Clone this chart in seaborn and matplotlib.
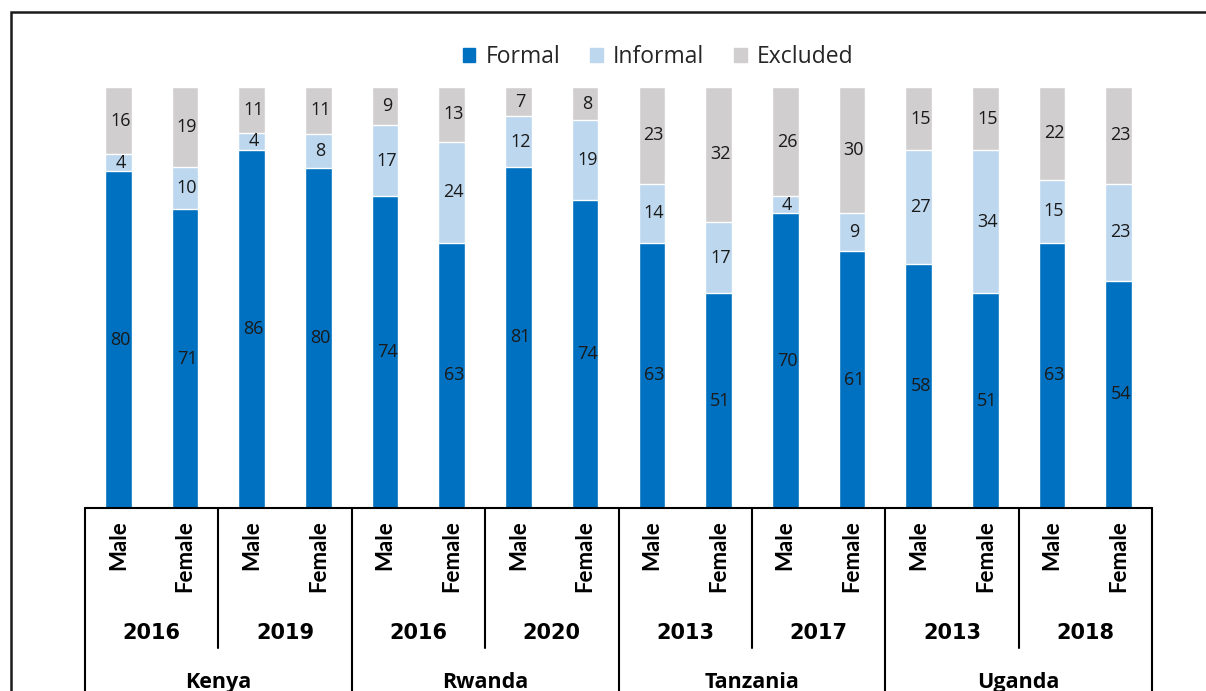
import pandas as pd
import matplotlib.pyplot as plt
import matplotlib.patches as mpatches
from matplotlib.transforms import blended_transform_factory
import seaborn as sns

countries = ['Kenya', 'Rwanda', 'Tanzania', 'Uganda']
years = ['2016', '2019', '2016', '2020', '2013', '2017', '2013', '2018']
sexes = ['Male', 'Female']

formal = [80, 71, 86, 80, 74, 63, 81, 74, 63, 51, 70, 61, 58, 51, 63, 54]
informal = [4, 10, 4, 8, 17, 24, 12, 19, 14, 17, 4, 9, 27, 34, 15, 23]
excluded = [16, 19, 11, 11, 9, 13, 7, 8, 23, 32, 26, 30, 15, 15, 22, 23]

c_formal = '#0070C0'
c_informal = '#BDD7EE'
c_excluded = '#D0CECE'

sns.set_theme(style='white')
plt.rcParams['font.family'] = ['Open Sans', 'DejaVu Sans']

# 100% stacked: scale each bar so its total is 100
df = pd.DataFrame({'formal': formal, 'informal': informal, 'excluded': excluded})
df['total'] = df[['formal', 'informal', 'excluded']].sum(axis=1)
df['f_top'] = df['formal'] / df['total'] * 100
df['i_top'] = (df['formal'] + df['informal']) / df['total'] * 100
df['e_top'] = 100.0
df['pos'] = [f'b{i}' for i in range(len(df))]

fig = plt.figure(figsize=(12.06, 6.91), dpi=100)
ax = fig.add_axes([85 / 1206, (691 - 508) / 691, (1152 - 85) / 1206, 421 / 691])

# draw from the tallest cumulative layer down
sns.barplot(data=df, x='pos', y='e_top', color=c_excluded, width=0.4,
            saturation=1, ax=ax)
sns.barplot(data=df, x='pos', y='i_top', color=c_informal, width=0.4,
            saturation=1, ax=ax)
sns.barplot(data=df, x='pos', y='f_top', color=c_formal, width=0.4,
            saturation=1, ax=ax)

lab = dict(ha='center', va='center', fontsize=13, color='#1a1a1a')
for i, r in df.iterrows():
    ax.text(i + 0.03, r['f_top'] / 2, str(r['formal']), **lab)
    ax.text(i + 0.03, (r['f_top'] + r['i_top']) / 2, str(r['informal']), **lab)
    ax.text(i + 0.03, (r['i_top'] + 100) / 2, str(r['excluded']), **lab)

ax.set_xlim(-0.5, len(df) - 0.5)
ax.set_ylim(0, 100)
ax.set_xticks([])
ax.set_yticks([])
ax.set_xlabel('')
ax.set_ylabel('')
sns.despine(ax=ax, left=True, bottom=True)

# multi-level category axis drawn as a table
tr = blended_transform_factory(ax.transData, ax.transAxes)
n = len(df)
ax.plot([-0.5, n - 0.5], [0, 0], color='black', lw=1.5, transform=tr, clip_on=False)
for k in range(0, n + 1, 2):
    x = k - 0.5
    if k % 4 == 0:
        ax.plot([x, x], [0, -0.6], color='black', lw=1.5, transform=tr, clip_on=False)
    else:
        ax.plot([x, x], [0, -0.3325], color='black', lw=1.5, transform=tr, clip_on=False)

for i in range(n):
    ax.text(i, -0.0285, sexes[i % 2], rotation=90, ha='center', va='top',
            fontsize=16, fontweight='bold', color='black', transform=tr,
            family=['Lato', 'DejaVu Sans'])
for j, yr in enumerate(years):
    ax.text(2 * j + 0.5, -0.297, yr, ha='center', va='center', fontsize=15,
            fontweight='bold', color='black', transform=tr, family=['DejaVu Sans'])
for j, c in enumerate(countries):
    ax.text(4 * j + 1.5, -0.415, c, ha='center', va='center', fontsize=15.5,
            fontweight='bold', color='black', transform=tr)

handles = [mpatches.Patch(color=c_formal, label='Formal'),
           mpatches.Patch(color=c_informal, label='Informal'),
           mpatches.Patch(color=c_excluded, label='Excluded')]
fig.legend(handles=handles, loc='center', bbox_to_anchor=(658 / 1206, (691 - 57) / 691),
           ncol=3, frameon=False, fontsize=16.5, handlelength=0.55, handleheight=0.55,
           handletextpad=0.45, columnspacing=1.3, labelcolor='#262626')

# chart border (runs off the right and bottom of the image)
fig.patches.append(mpatches.Rectangle((11 / 1206, -0.1), 1.2, (691 - 12) / 691 + 0.1,
                                      transform=fig.transFigure, fill=False,
                                      edgecolor='#1a1a1a', lw=1.8))

fig.savefig('out.png', dpi=100)
